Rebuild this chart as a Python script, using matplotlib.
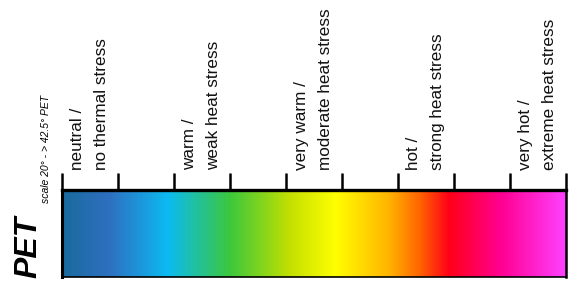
import matplotlib
matplotlib.use("Agg")
import matplotlib.pyplot as plt
import numpy as np
from matplotlib.colors import LinearSegmentedColormap

# PET scale (°C) and the thermal-stress classes that start at each major tick
pet_ticks = [20.0, 22.5, 25.0, 27.5, 30.0, 32.5, 35.0, 37.5, 40.0, 42.5]
class_starts = [20.0, 25.0, 30.0, 35.0, 40.0]
class_labels = [
    "neutral /\nno thermal stress",
    "warm /\nweak heat stress",
    "very warm /\nmoderate heat stress",
    "hot /\nstrong heat stress",
    "very hot /\nextreme heat stress",
]

# colour stops along the bar (PET value, colour)
stop_values = [20.0, 22.1, 24.7, 27.5, 30.2, 32.2, 34.6, 36.0, 37.3, 39.6, 42.5]
stop_colors = ["#1a6a9e", "#2e70c0", "#0cbaf2", "#3cc83c", "#c4e000", "#ffff00",
               "#ffb400", "#ff6400", "#ff0018", "#ff0090", "#ff40ff"]

LABEL_FONT = ["Liberation Sans Narrow", "Liberation Sans", "DejaVu Sans"]

vmin, vmax = pet_ticks[0], pet_ticks[-1]
pos = [(v - vmin) / (vmax - vmin) for v in stop_values]
cmap = LinearSegmentedColormap.from_list("pet", list(zip(pos, stop_colors)))

fig = plt.figure(figsize=(5.73, 2.93), dpi=100)
ax = fig.add_axes([62 / 573, 1 - 277 / 293, (566 - 62) / 573, (277 - 190) / 293])

grad = np.linspace(vmin, vmax, 512).reshape(1, -1)
ax.imshow(grad, cmap=cmap, aspect="auto", extent=[vmin, vmax, 0, 1],
          vmin=vmin, vmax=vmax)
ax.set_xlim(vmin, vmax)
ax.set_ylim(0, 1)

ax.set_xticks(pet_ticks)
ax.xaxis.tick_top()
ax.tick_params(axis="x", direction="out", length=12.5, width=1.8,
               labeltop=False, labelbottom=False)
ax.set_yticks([])
ax.spines["top"].set_linewidth(2.4)
ax.spines["left"].set_linewidth(2.2)
ax.spines["right"].set_linewidth(1.8)
ax.spines["bottom"].set_linewidth(1.2)

for x, lab in zip(class_starts, class_labels):
    ax.annotate(lab, xy=(x, 1), xycoords=("data", "axes fraction"),
                xytext=(8, 20), textcoords="offset pixels",
                rotation=90, ha="left", va="bottom", fontsize=12.3,
                family=LABEL_FONT, linespacing=1.75, color="#111111")

# axis title: PET with an italic subscript
fig.text(28 / 573, 1 - 278 / 293, "PET", rotation=90, ha="center", va="bottom",
         fontsize=23, fontweight="bold", fontstyle="italic", family=LABEL_FONT)
fig.text(46 / 573, 1 - 203 / 293, "scale 20° - > 42.5° PET", rotation=90,
         ha="center", va="bottom", fontsize=7.5, fontstyle="italic",
         family=LABEL_FONT)

fig.savefig("out.png", dpi=100)
